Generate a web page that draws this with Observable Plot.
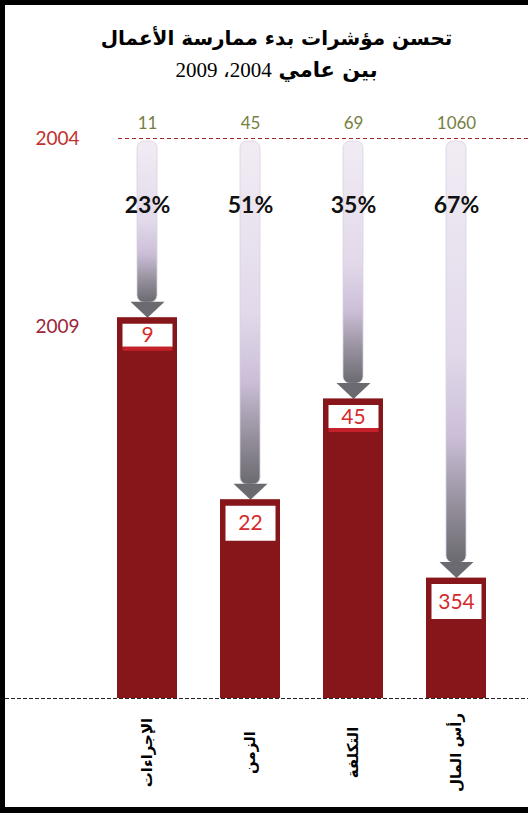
<!DOCTYPE html>
<html>
<head>
<meta charset="utf-8">
<script src="https://cdn.jsdelivr.net/npm/d3@7"></script>
<script src="https://cdn.jsdelivr.net/npm/@observablehq/plot@0.6"></script>
<style>
  html, body { margin: 0; padding: 0; background: #fff; }
  #frame {
    position: relative; width: 528px; height: 813px; box-sizing: border-box;
    border-left: 5px solid #000; border-top: 5px solid #000; border-bottom: 6px solid #000;
    background: #fff; overflow: hidden;
  }
  #title {
    position: absolute; left: 20px; right: 0; top: 17px; text-align: center;
    font-family: "DejaVu Sans", sans-serif; color: #000;
  }
  #title .l1 { font-weight: bold; font-size: 20px; line-height: 32px; }
  #title .l2 { font-size: 21px; line-height: 32px; }
  #title .l2 b { font-family: "DejaVu Sans", sans-serif; font-size: 21px; }
  #title .l2 .num { font-family: "Liberation Serif", serif; }
  #chart { position: absolute; left: -5px; top: 90px; width: 533px; height: 717px; }
  #chart svg { max-width: none !important; width: 533px; height: 717px; }
</style>
</head>
<body>
<div id="frame">
  <div id="title" dir="rtl">
    <div class="l1">تحسن مؤشرات بدء ممارسة الأعمال</div>
    <div class="l2"><b>بين عامي</b> <span class="num">2004، 2009</span></div>
  </div>
  <div id="chart"></div>
</div>
<script>
// ---- data ----
const categories = ["الإجراءات", "الزمن", "التكلفة", "رأس المال"];
const values2004 = [11, 45, 69, 1060];
const values2009 = [9, 22, 45, 354];
const improvementPct = [23, 51, 35, 67];
// bar heights (2004 line = 100)
const barLevel = [68, 35.5, 53.5, 21.5];
const yearLabels = ["2004", "2009"];

const data = categories.map((c, i) => ({
  cat: c, v04: values2004[i], v09: values2009[i], pct: improvementPct[i], level: barLevel[i], i
}));

const shortBoxIdx = new Set([0, 2]);
const shortData = data.filter(d => shortBoxIdx.has(d.i));
const tallData = data.filter(d => !shortBoxIdx.has(d.i));

const headSymbol = { draw(ctx) { ctx.moveTo(-17, -16); ctx.lineTo(17, -16); ctx.lineTo(0, 0); ctx.closePath(); } };
const tallBox = { draw(ctx) { ctx.rect(-25, 6, 50, 35); } };
const shortBox = { draw(ctx) { ctx.rect(-25, 6, 50, 23); } };
const strip = { draw(ctx) { ctx.rect(-25, 29, 50, 4); } };

const defs = () => {
  const g = d3.create("svg:g");
  const grad = g.append("defs").append("linearGradient")
    .attr("id", "shaftGrad").attr("x1", 0).attr("y1", 0).attr("x2", 0).attr("y2", 1);
  [[0, "#f1ecf4"], [0.5, "#e2d9ea"], [0.7, "#cbbfd8"], [0.86, "#96909d"], [1, "#6b6a70"]]
    .forEach(([o, c]) => grad.append("stop").attr("offset", o).attr("stop-color", c));
  return g.node();
};

const chart = Plot.plot({
  width: 533, height: 717,
  marginLeft: 5, marginRight: 0, marginTop: 43, marginBottom: 114,
  x: { type: "band", domain: categories, range: [85, 518], paddingInner: 0.42, paddingOuter: 0.3, axis: null },
  y: { domain: [0, 100], axis: null },
  style: { fontFamily: "Lato, 'DejaVu Sans', sans-serif", background: "transparent", overflow: "visible" },
  marks: [
    defs,
    Plot.ruleY([0], { stroke: "#222", strokeDasharray: "4,2", strokeWidth: 1 }),
    Plot.ruleY([100], { stroke: "#a3282b", strokeDasharray: "4,3", strokeWidth: 1, insetLeft: 113 }),
    Plot.text([yearLabels[0]], { y: () => 100, text: d => d, frameAnchor: "left", dx: 30, textAnchor: "start", fill: "#c1302e", fontSize: 19 }),
    Plot.text([yearLabels[1]], { y: () => barLevel[0], text: d => d, frameAnchor: "left", dx: 30, dy: 9, textAnchor: "start", fill: "#9b2638", fontSize: 19 }),
    Plot.barY(data, { x: "cat", y1: () => 100, y2: "level", insetLeft: 20, insetRight: 20, insetTop: 3, insetBottom: 15, rx: 7, fill: "url(#shaftGrad)", stroke: "#d9d0df", strokeWidth: 0.8 }),
    Plot.dot(data, { x: "cat", y: "level", symbol: headSymbol, r: 5, fill: "#6b6a70", stroke: null }),
    Plot.barY(data, { x: "cat", y: "level", fill: "#861619" }),
    Plot.dot(tallData, { x: "cat", y: "level", symbol: tallBox, r: 5, fill: "#fff", stroke: null }),
    Plot.dot(shortData, { x: "cat", y: "level", symbol: shortBox, r: 5, fill: "#fff", stroke: null }),
    Plot.dot(shortData, { x: "cat", y: "level", symbol: strip, r: 5, fill: "#c6202a", stroke: null }),
    Plot.text(tallData, { x: "cat", y: "level", text: d => String(d.v09), dy: 24, fill: "#d42b2b", fontSize: 21 }),
    Plot.text(shortData, { x: "cat", y: "level", text: d => String(d.v09), dy: 18, fill: "#d42b2b", fontSize: 21 }),
    Plot.text(data, { x: "cat", y: () => 100, text: d => String(d.v04), dy: -15, fill: "#74803f", fontSize: 17 }),
    Plot.text(data, { x: "cat", y: () => 100, text: d => d.pct + "%", dy: 67, fill: "#111", fontSize: 23, fontWeight: "bold" }),
    Plot.text(data, { x: "cat", y: () => 0, text: "cat", rotate: -90, dy: 54, fill: "#000", fontSize: 15, fontWeight: "bold", fontFamily: "DejaVu Sans" })
  ]
});
document.getElementById("chart").appendChild(chart);
</script>
</body>
</html>
